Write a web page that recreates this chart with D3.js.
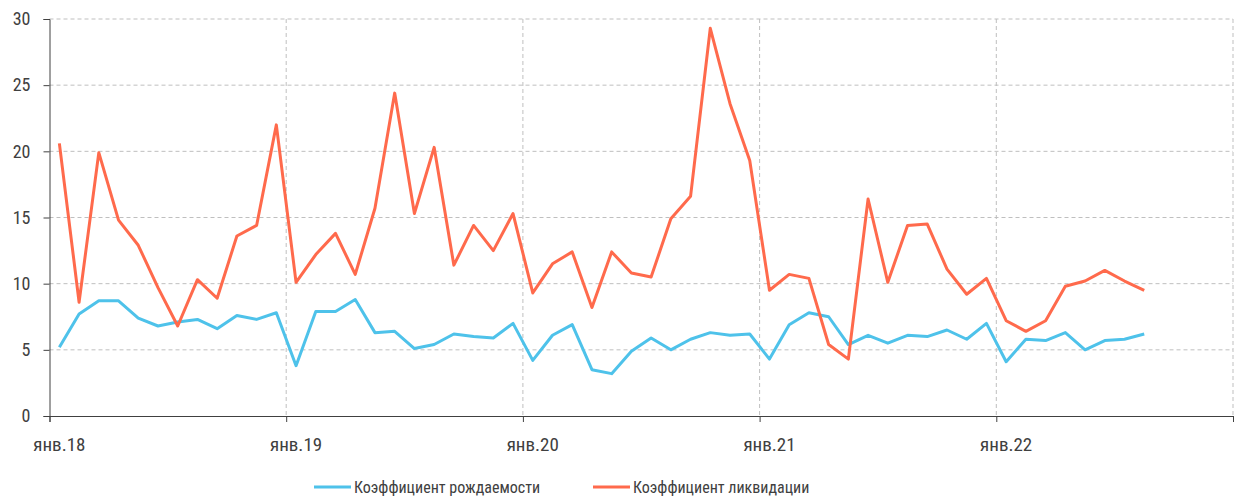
<!DOCTYPE html>
<html>
<head>
<meta charset="utf-8">
<script src="https://cdn.jsdelivr.net/npm/d3@7"></script>
<style>
  body { margin: 0; background: #fff; }
  text { font-family: "Liberation Sans Narrow", "Arial Narrow", "Roboto Condensed", sans-serif; fill: #404040; }
</style>
</head>
<body>
<div id="chart"></div>
<script>
// monthly values, jan 2018 - aug 2022
const birthRate = [5.2, 7.7, 8.7, 8.7, 7.4, 6.8, 7.1, 7.3, 6.6, 7.6, 7.3, 7.8,
                   3.8, 7.9, 7.9, 8.8, 6.3, 6.4, 5.1, 5.4, 6.2, 6.0, 5.9, 7.0,
                   4.2, 6.1, 6.9, 3.5, 3.2, 4.9, 5.9, 5.0, 5.8, 6.3, 6.1, 6.2,
                   4.3, 6.9, 7.8, 7.5, 5.4, 6.1, 5.5, 6.1, 6.0, 6.5, 5.8, 7.0,
                   4.1, 5.8, 5.7, 6.3, 5.0, 5.7, 5.8, 6.2]
const liquidationRate = [20.6, 8.6, 19.9, 14.8, 12.9, 9.7, 6.8, 10.3, 8.9, 13.6, 14.4, 22.0,
                         10.1, 12.2, 13.8, 10.7, 15.7, 24.4, 15.3, 20.3, 11.4, 14.4, 12.5, 15.3,
                         9.3, 11.5, 12.4, 8.2, 12.4, 10.8, 10.5, 14.9, 16.6, 29.3, 23.6, 19.3,
                         9.5, 10.7, 10.4, 5.4, 4.3, 16.4, 10.1, 14.4, 14.5, 11.1, 9.2, 10.4,
                         7.2, 6.4, 7.2, 9.8, 10.2, 11.0, 10.2, 9.5]
const yearLabels = ['янв.18', 'янв.19', 'янв.20', 'янв.21', 'янв.22']
const yTicks = [0, 5, 10, 15, 20, 25, 30]
const seriesNames = ['Коэффициент рождаемости', 'Коэффициент ликвидации']
const colors = ['#4ec2ea', '#ff6a4c']

let width = 1234, height = 499
let svg = d3.select('#chart').append('svg')
            .attr('width', width).attr('height', height)

// x is month index (category style axis, 60 months)
let x = d3.scaleLinear().domain([0, 60]).range([49.5, 1233])
let y = d3.scaleLinear().domain([0, 30]).range([416, 19])

//horizontal grid
svg.selectAll('.hgrid')
  .data(yTicks.filter(d => d > 0))
  .enter().append('line')
  .attr('x1', x(0)).attr('x2', x(60))
  .attr('y1', d => y(d)).attr('y2', d => y(d))
  .attr('stroke', '#bfbfbf').attr('stroke-width', 1)
  .attr('stroke-dasharray', '4,3')

//vertical grid at years
svg.selectAll('.vgrid')
  .data([12, 24, 36, 48, 60])
  .enter().append('line')
  .attr('x1', d => x(d)).attr('x2', d => x(d))
  .attr('y1', y(30)).attr('y2', y(0))
  .attr('stroke', '#bfbfbf').attr('stroke-width', 1)
  .attr('stroke-dasharray', '4,3')

//y axis
let yAxis = svg.append('g')
  .attr('transform', `translate(${x(0)},0)`)
  .call(d3.axisLeft(y).tickValues(yTicks).tickSize(6).tickPadding(13))
yAxis.select('.domain').attr('stroke', '#404040')
yAxis.selectAll('line').attr('stroke', '#404040')
yAxis.selectAll('text').style('font-size', '18px').attr('fill', '#404040')

//x axis, ticks on year boundaries
let xAxis = svg.append('g')
  .attr('transform', `translate(0,${y(0)})`)
  .call(d3.axisBottom(x).tickValues([0, 12, 24, 36, 48, 60]).tickSize(6).tickFormat(''))
xAxis.select('.domain').attr('stroke', '#404040')
xAxis.selectAll('line').attr('stroke', '#404040')

svg.selectAll('.year-label')
  .data(yearLabels)
  .enter().append('text')
  .attr('class', 'year-label')
  .attr('x', (d, i) => x(i * 12 + 0.5))
  .attr('y', 451)
  .attr('text-anchor', 'middle')
  .style('font-size', '19px')
  .text(d => d)

//lines
let line = d3.line()
  .x((d, i) => x(i + 0.5))
  .y(d => y(d))

svg.append('path')
  .datum(birthRate)
  .attr('d', line)
  .attr('fill', 'none')
  .attr('stroke', colors[0])
  .attr('stroke-width', 3)
  .attr('stroke-linejoin', 'round')

svg.append('path')
  .datum(liquidationRate)
  .attr('d', line)
  .attr('fill', 'none')
  .attr('stroke', colors[1])
  .attr('stroke-width', 3)
  .attr('stroke-linejoin', 'round')

//legend
let legendX = [314, 593]
let legend = svg.selectAll('.legend')
  .data(seriesNames)
  .enter().append('g')
  .attr('transform', (d, i) => `translate(${legendX[i]},487)`)
legend.append('line')
  .attr('x1', 0).attr('x2', 37)
  .attr('stroke', (d, i) => colors[i]).attr('stroke-width', 3)
legend.append('text')
  .attr('x', 40).attr('y', 6)
  .style('font-size', '16px')
  .text(d => d)
</script>
</body>
</html>
